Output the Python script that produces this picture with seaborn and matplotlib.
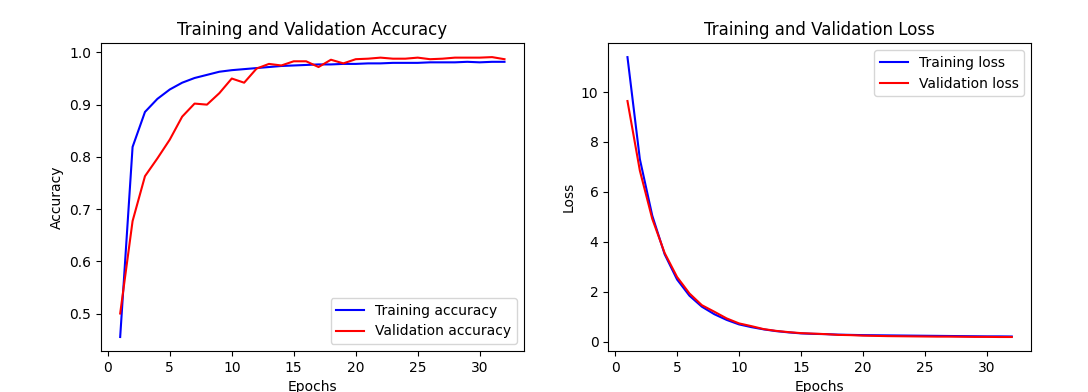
import numpy as np
import pandas as pd
import matplotlib
matplotlib.use("Agg")
import matplotlib.pyplot as plt
import seaborn as sns

epochs = list(range(1, 33))

train_acc = [0.455, 0.819, 0.886, 0.911, 0.929, 0.942, 0.951, 0.957, 0.963, 0.966,
             0.968, 0.970, 0.972, 0.974, 0.975, 0.976, 0.977, 0.977, 0.978, 0.978,
             0.979, 0.979, 0.980, 0.980, 0.980, 0.981, 0.981, 0.981, 0.982, 0.981,
             0.982, 0.982]
val_acc = [0.500, 0.677, 0.763, 0.797, 0.833, 0.877, 0.902, 0.900, 0.922, 0.950,
           0.942, 0.969, 0.978, 0.975, 0.983, 0.983, 0.972, 0.986, 0.979, 0.987,
           0.988, 0.990, 0.988, 0.988, 0.990, 0.987, 0.988, 0.990, 0.990, 0.990,
           0.991, 0.987]

train_loss = [11.40, 7.31, 5.05, 3.50, 2.49, 1.84, 1.40, 1.10, 0.87, 0.69,
              0.58, 0.49, 0.42, 0.37, 0.33, 0.31, 0.30, 0.28, 0.27, 0.26,
              0.255, 0.25, 0.245, 0.24, 0.235, 0.23, 0.225, 0.22, 0.215, 0.21,
              0.21, 0.205]
val_loss = [9.64, 6.85, 4.92, 3.55, 2.59, 1.93, 1.46, 1.20, 0.93, 0.73,
            0.62, 0.50, 0.43, 0.38, 0.34, 0.32, 0.30, 0.27, 0.26, 0.24,
            0.23, 0.22, 0.215, 0.21, 0.205, 0.20, 0.20, 0.195, 0.19, 0.19,
            0.185, 0.185]

fig, axes = plt.subplots(1, 2, figsize=(10.88, 3.92), dpi=100)
fig.subplots_adjust(left=0.0928, right=0.9476, top=0.890, bottom=0.1046, wspace=0.2)

ax = axes[0]
sns.lineplot(x=epochs, y=train_acc, color='b', label='Training accuracy', ax=ax)
sns.lineplot(x=epochs, y=val_acc, color='r', label='Validation accuracy', ax=ax)
ax.set_title('Training and Validation Accuracy', fontsize=12)
ax.set_xlabel('Epochs')
ax.set_ylabel('Accuracy')
ax.legend(loc='lower right')

ax = axes[1]
sns.lineplot(x=epochs, y=train_loss, color='b', label='Training loss', ax=ax)
sns.lineplot(x=epochs, y=val_loss, color='r', label='Validation loss', ax=ax)
ax.set_title('Training and Validation Loss', fontsize=12)
ax.set_xlabel('Epochs')
ax.set_ylabel('Loss')
ax.legend(loc='upper right')

fig.savefig('out.png', dpi=100)
